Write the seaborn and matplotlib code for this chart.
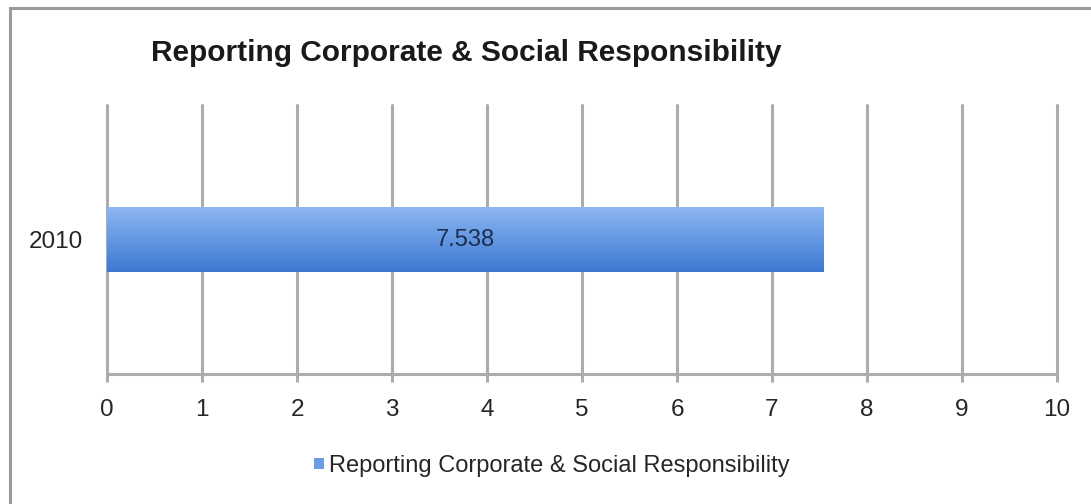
import numpy as np
import pandas as pd
import matplotlib.pyplot as plt
import seaborn as sns
from matplotlib.patches import Rectangle
from matplotlib.colors import LinearSegmentedColormap

# data
years = ['2010']
values = [7.538]
series_name = 'Reporting Corporate & Social Responsibility'
x_ticks = list(range(0, 11))

df = pd.DataFrame({'Year': years, 'Value': values})

sns.set_style('white')
plt.rcParams['font.family'] = ['Liberation Sans', 'DejaVu Sans']

fig = plt.figure(figsize=(10.91, 5.04), dpi=100)
ax = fig.add_axes([107 / 1091, 1 - 374 / 504, 950 / 1091, 269 / 504])

sns.barplot(data=df, x='Value', y='Year', orient='h', color='#5b93e0',
            width=0.24, ax=ax, zorder=3)

# gradient fill on bars
cmap = LinearSegmentedColormap.from_list('bar', ['#8db7f2', '#3b78d2'])
grad = np.linspace(0, 1, 256).reshape(-1, 1)
for p in ax.patches:
    x0, y0 = p.get_x(), p.get_y()
    w, h = p.get_width(), p.get_height()
    p.set_facecolor('none')
    p.set_edgecolor('none')
    ax.imshow(grad, cmap=cmap, aspect='auto', zorder=3,
              extent=[x0, x0 + w, y0 + h, y0], interpolation='bicubic')
    ax.text(x0 + w / 2, y0 + h / 2, f'{w:.3f}', ha='center', va='center',
            fontsize=17, color='#1c2d4f', zorder=4)

ax.set_xlim(0, 10)
ax.set_ylim(0.5, -0.5)
ax.set_xticks(x_ticks)
ax.grid(axis='x', color='#acacac', linewidth=2.2, zorder=0)
ax.grid(axis='y', visible=False)
for line in ax.get_xgridlines():
    line.set_clip_on(False)
for s in ['top', 'right', 'left']:
    ax.spines[s].set_visible(False)
ax.spines['bottom'].set_color('#acacac')
ax.spines['bottom'].set_linewidth(2.2)
ax.tick_params(axis='x', bottom=True, length=6, width=2.2, color='#acacac',
               labelsize=17.5, labelcolor='#262626', pad=12)
ax.tick_params(axis='y', left=False, labelsize=17.5, labelcolor='#262626', pad=14)
ax.set_xlabel('')
ax.set_ylabel('')

fig.text(466 / 1091, 1 - 53 / 504, series_name, ha='center', va='center',
         fontsize=21.5, fontweight='bold', color='#1a1a1a')

# legend
handle = Rectangle((0, 0), 1, 1, facecolor='#6b9be0', edgecolor='none')
fig.legend([handle], [series_name], loc='center', bbox_to_anchor=(552 / 1091, 1 - 466 / 504),
           frameon=False, fontsize=17, handlelength=0.42, handleheight=0.33,
           handletextpad=0.2, labelcolor='#262626')

# outer frame
fig.patches.append(Rectangle((10 / 1091, -0.1), 1.2, 1 - 8 / 504 + 0.1,
                             transform=fig.transFigure, fill=False,
                             edgecolor='#9a9a9a', linewidth=2.2))

fig.savefig('out.png', dpi=100, facecolor='white')
